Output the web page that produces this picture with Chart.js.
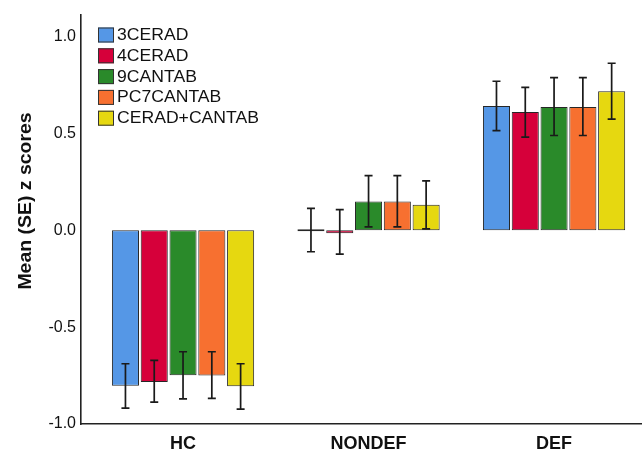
<!DOCTYPE html>
<html><head><meta charset="utf-8">
<script src="https://cdn.jsdelivr.net/npm/chart.js@4.4.1/dist/chart.umd.min.js"></script>
<style>html,body{margin:0;padding:0;background:#fff;overflow:hidden}#wrap{width:642px;height:453px;position:relative}</style>
</head><body><div id="wrap"><canvas id="c" width="642" height="453"></canvas></div>
<script>
const categories = ['HC', 'NONDEF', 'DEF'];
const seriesNames = ['3CERAD', '4CERAD', '9CANTAB', 'PC7CANTAB', 'CERAD+CANTAB'];
const seriesColors = ['#5597e6', '#d6003a', '#2a8a2a', '#f77030', '#e6d810'];
// means
const mean3CERAD = [-0.803, 0.000, 0.641];
const mean4CERAD = [-0.783, -0.010, 0.610];
const mean9CANTAB = [-0.749, 0.149, 0.636];
const meanPC7CANTAB = [-0.750, 0.149, 0.636];
const meanCERADCANTAB = [-0.805, 0.132, 0.718];
// upper SE bounds
const hi3CERAD = [-0.689, 0.113, 0.769];
const hi4CERAD = [-0.672, 0.106, 0.737];
const hi9CANTAB = [-0.627, 0.282, 0.788];
const hiPC7CANTAB = [-0.627, 0.282, 0.788];
const hiCERADCANTAB = [-0.689, 0.255, 0.862];
// lower SE bounds
const lo3CERAD = [-0.918, -0.111, 0.514];
const lo4CERAD = [-0.887, -0.123, 0.481];
const lo9CANTAB = [-0.870, 0.017, 0.489];
const loPC7CANTAB = [-0.868, 0.017, 0.489];
const loCERADCANTAB = [-0.923, 0.007, 0.574];
const yTickValues = [-1.0, -0.5, 0.0, 0.5, 1.0];
const yTitle = 'Mean (SE) z scores';

const means = [mean3CERAD, mean4CERAD, mean9CANTAB, meanPC7CANTAB, meanCERADCANTAB];
const his = [hi3CERAD, hi4CERAD, hi9CANTAB, hiPC7CANTAB, hiCERADCANTAB];
const los = [lo3CERAD, lo4CERAD, lo9CANTAB, loPC7CANTAB, loCERADCANTAB];

const datasets = seriesNames.map((name, s) => ({
  label: name,
  data: categories.map((c, i) => ({x: i, y: means[s][i]})),
  hi: his[s], lo: los[s],
  backgroundColor: seriesColors[s],
  borderColor: '#262626',
  borderWidth: 1,
  borderSkipped: false,
  minBarLength: s === 1 ? 3 : 2,
  categoryPercentage: 0.776,
  barPercentage: 0.94
}));

const errorBars = {
  id: 'errorBars',
  afterDatasetsDraw(chart) {
    const ctx = chart.ctx, y = chart.scales.y;
    ctx.save();
    ctx.strokeStyle = '#1a1a1a';
    ctx.lineWidth = 1.7;
    chart.data.datasets.forEach((ds, di) => {
      const meta = chart.getDatasetMeta(di);
      meta.data.forEach((bar, i) => {
        const x = bar.x, yh = y.getPixelForValue(ds.hi[i]), yl = y.getPixelForValue(ds.lo[i]);
        ctx.beginPath();
        ctx.moveTo(x, yh); ctx.lineTo(x, yl);
        ctx.moveTo(x - 4, yh); ctx.lineTo(x + 4, yh);
        ctx.moveTo(x - 4, yl); ctx.lineTo(x + 4, yl);
        ctx.stroke();
      });
    });
    ctx.restore();
  }
};

const customLegend = {
  id: 'customLegend',
  afterDraw(chart) {
    const ctx = chart.ctx;
    ctx.save();
    chart.data.datasets.forEach((ds, i) => {
      const cy = 35 + i * 20.8;
      ctx.fillStyle = ds.backgroundColor;
      ctx.fillRect(98, cy - 7.5, 16, 15);
      ctx.strokeStyle = '#333';
      ctx.lineWidth = 1;
      ctx.strokeRect(98.5, cy - 7, 15, 14);
      ctx.save();
      ctx.translate(117, cy + 0.5);
      ctx.scale(1.1, 1);
      ctx.fillStyle = '#111';
      ctx.font = '16px "Liberation Sans", Arial, sans-serif';
      ctx.textBaseline = 'middle';
      ctx.fillText(ds.label, 0, 0);
      ctx.restore();
    });
    ctx.restore();
  }
};

const yTitlePlugin = {
  id: 'yTitlePlugin',
  afterDraw(chart) {
    const ctx = chart.ctx;
    ctx.save();
    ctx.translate(26, 201);
    ctx.rotate(-Math.PI / 2);
    ctx.scale(1.08, 1);
    ctx.fillStyle = '#111';
    ctx.font = 'bold 18px "Liberation Sans", Arial, sans-serif';
    ctx.textAlign = 'center';
    ctx.textBaseline = 'middle';
    ctx.fillText(yTitle, 0, 0);
    ctx.restore();
  }
};

new Chart(document.getElementById('c'), {
  type: 'bar',
  data: { datasets },
  plugins: [errorBars, customLegend, yTitlePlugin],
  options: {
    responsive: false,
    animation: false,
    layout: { padding: { top: 12, right: 0, left: 0, bottom: 0 } },
    plugins: { legend: { display: false }, tooltip: { enabled: false } },
    scales: {
      x: {
        type: 'linear',
        offset: false,
        min: -0.55, max: 2.474,
        grid: { display: false, drawTicks: false },
        border: { display: true, color: '#222', width: 1.6 },
        afterBuildTicks: (s) => { s.ticks = categories.map((c, i) => ({ value: i })); },
        afterFit: (s) => { s.height = 29; },
        ticks: {
          autoSkip: false, maxRotation: 0,
          padding: 9,
          color: '#111',
          font: { family: '"Liberation Sans", Arial, sans-serif', size: 18, weight: 'bold' },
          callback: (v) => categories[v]
        }
      },
      y: {
        min: -1.0, max: 1.113,
        grid: { display: false, drawTicks: false },
        border: { display: true, color: '#222', width: 1.6 },
        afterBuildTicks: (s) => { s.ticks = yTickValues.map(v => ({ value: v })); },
        afterFit: (s) => { s.width = 81; },
        ticks: {
          padding: 5,
          color: '#111',
          font: { family: '"Liberation Sans", Arial, sans-serif', size: 16 },
          callback: (v) => Number(v).toFixed(1)
        }
      }
    }
  }
});
</script>
</body></html>
